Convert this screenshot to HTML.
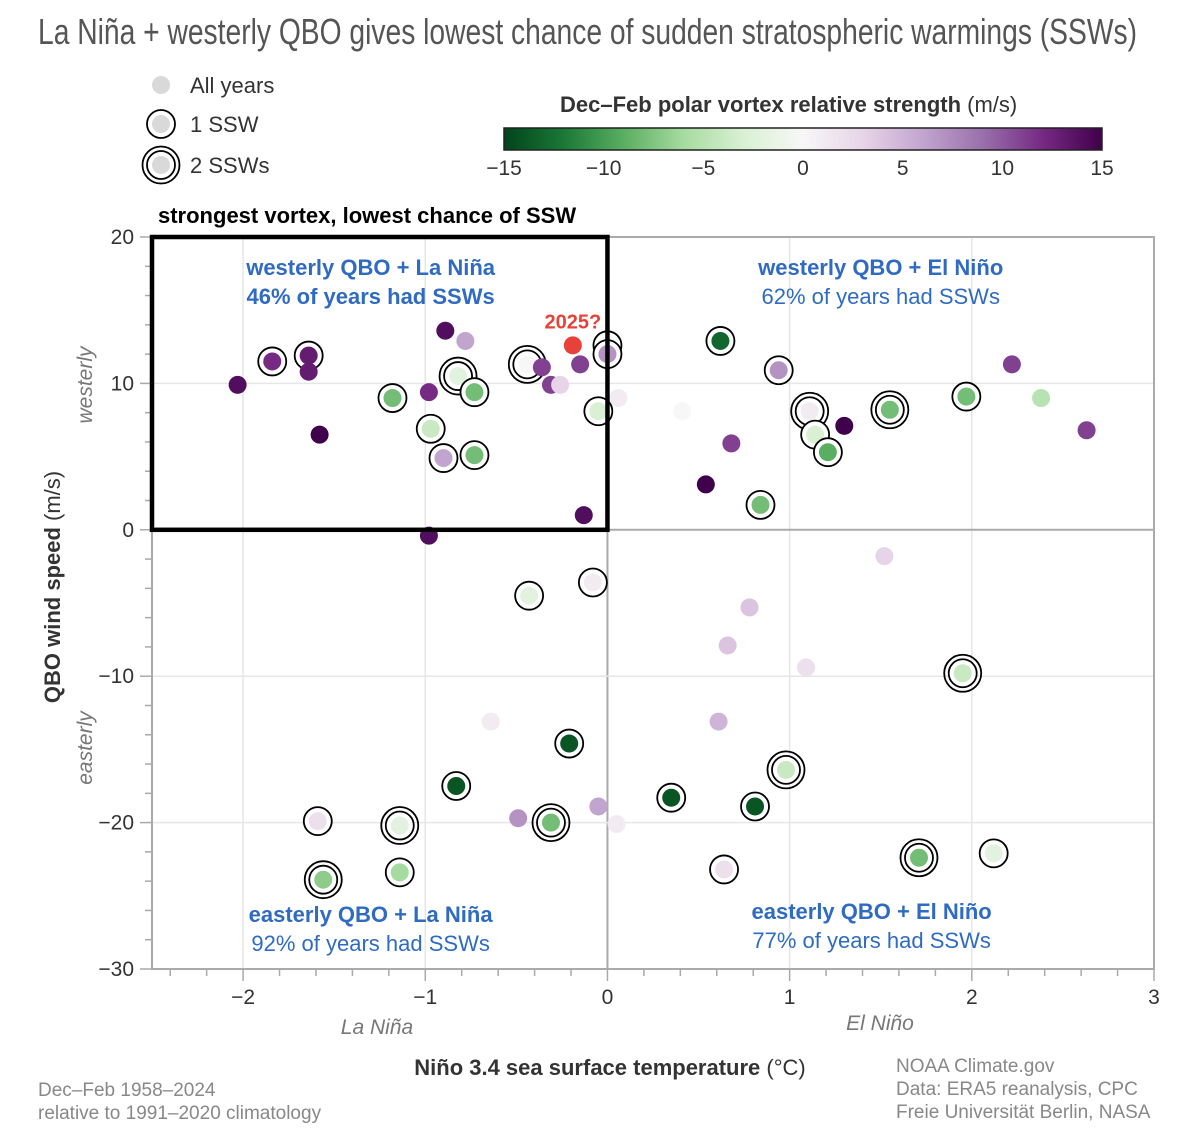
<!DOCTYPE html>
<html><head><meta charset="utf-8"><style>
html,body{margin:0;padding:0;background:#fff;}
svg{display:block;font-family:"Liberation Sans",sans-serif;}
</style></head><body>
<svg id="chart" width="1200" height="1141" viewBox="0 0 1200 1141" xmlns="http://www.w3.org/2000/svg">
<text x="38" y="44" font-size="36" fill="#555" textLength="1099" lengthAdjust="spacingAndGlyphs" font-family="Liberation Sans Narrow, Liberation Sans, sans-serif">La Niña + westerly QBO gives lowest chance of sudden stratospheric warmings (SSWs)</text>
<g>
<circle cx="161" cy="85" r="9" fill="#d9d9d9"/>
<text x="190" y="93" font-size="22" fill="#333">All years</text>
<circle cx="161" cy="124" r="9" fill="#d9d9d9"/><circle cx="161" cy="124" r="14" fill="none" stroke="#000" stroke-width="1.8"/>
<text x="190" y="132" font-size="22" fill="#333">1 SSW</text>
<circle cx="161" cy="165" r="9" fill="#d9d9d9"/><circle cx="161" cy="165" r="14" fill="none" stroke="#000" stroke-width="1.8"/><circle cx="161" cy="165" r="18.5" fill="none" stroke="#000" stroke-width="1.8"/>
<text x="190" y="173" font-size="22" fill="#333">2 SSWs</text>
</g>
<g>
<defs><linearGradient id="cg" x1="0" x2="1" y1="0" y2="0">
<stop offset="0" stop-color="#00441b"/><stop offset="0.1" stop-color="#1b7837"/><stop offset="0.2" stop-color="#5aae61"/><stop offset="0.3" stop-color="#a6dba0"/><stop offset="0.4" stop-color="#d9f0d3"/><stop offset="0.5" stop-color="#f7f7f7"/><stop offset="0.6" stop-color="#e7d4e8"/><stop offset="0.7" stop-color="#c2a5cf"/><stop offset="0.8" stop-color="#9970ab"/><stop offset="0.9" stop-color="#762a83"/><stop offset="1" stop-color="#40004b"/></linearGradient></defs>
<text x="560" y="112" font-size="22" font-weight="bold" fill="#333">Dec–Feb polar vortex relative strength <tspan font-weight="normal">(m/s)</tspan></text>
<rect x="504" y="128" width="598" height="22" fill="url(#cg)" stroke="#222" stroke-width="1.5"/>
<g id="cbticks" font-size="21" fill="#333" text-anchor="middle"></g>
</g>
<g id="plot"></g>
<text x="610" y="1075" font-size="22" font-weight="bold" fill="#333" text-anchor="middle">Niño 3.4 sea surface temperature <tspan font-weight="normal">(°C)</tspan></text>
<text x="377" y="1034" font-size="21" font-style="italic" fill="#777" text-anchor="middle">La Niña</text>
<text x="880" y="1030" font-size="21" font-style="italic" fill="#777" text-anchor="middle">El Niño</text>
<text transform="translate(60,587) rotate(-90)" font-size="22" font-weight="bold" fill="#333" text-anchor="middle">QBO wind speed <tspan font-weight="normal">(m/s)</tspan></text>
<text transform="translate(92,385) rotate(-90)" font-size="21" font-style="italic" fill="#777" text-anchor="middle">westerly</text>
<text transform="translate(92,748) rotate(-90)" font-size="21" font-style="italic" fill="#777" text-anchor="middle">easterly</text>
<text x="38" y="1096" font-size="19" fill="#888">Dec–Feb 1958–2024</text>
<text x="38" y="1119" font-size="19" fill="#888">relative to 1991–2020 climatology</text>
<text x="896" y="1072" font-size="19" fill="#888">NOAA Climate.gov</text>
<text x="896" y="1095" font-size="19" fill="#888">Data: ERA5 reanalysis, CPC</text>
<text x="896" y="1118" font-size="19" fill="#888">Freie Universität Berlin, NASA</text>
</svg>
<script>
const xVals=[-2.03,-1.84,-1.64,-1.64,-1.58,-1.18,-0.98,-0.97,-0.90,-0.89,-0.78,-0.82,-0.73,-0.73,-0.98,-0.44,-0.36,-0.31,-0.26,-0.15,0.0,0.0,-0.05,-0.13,0.06,0.41,0.62,0.68,0.54,0.94,1.11,1.14,1.21,1.30,1.55,0.84,1.97,2.22,2.38,2.63,1.52,-0.08,-0.43,0.78,0.66,1.09,1.95,-0.64,0.61,-0.21,-0.83,0.98,0.35,0.81,-0.05,-0.49,-0.31,-1.59,-1.14,0.05,-1.14,-1.56,0.64,1.71,2.12];
const yVals=[9.9,11.5,11.9,10.8,6.5,9.0,9.4,6.9,4.9,13.6,12.9,10.5,9.4,5.1,-0.4,11.3,11.1,9.9,9.9,11.3,12.6,12.0,8.1,1.0,9.0,8.1,12.9,5.9,3.1,10.9,8.1,6.5,5.3,7.1,8.2,1.7,9.1,11.3,9.0,6.8,-1.8,-3.6,-4.5,-5.3,-7.9,-9.4,-9.8,-13.1,-13.1,-14.6,-17.5,-16.4,-18.3,-18.9,-18.9,-19.7,-20.0,-19.9,-20.2,-20.1,-23.4,-23.9,-23.2,-22.4,-22.1];
const vortex=[14,12,13,13,15,-8,12,-4,6,14,6,-2,-8,-8,14,0,11,11,3,11,0,7,-3,14,1,0,-13,11,15,7,1,-3,-9,15,-8,-8,-8,11,-5,11,3,1,-2,4,4,2,-4,1,5,-14,-14,-4,-14,-14,6,7,-8,2,-2,1,-6,-7,2,-8,-2];
const sswCount=[0,1,1,0,0,1,0,1,1,0,0,2,1,1,0,2,0,0,0,0,1,1,1,0,0,0,1,0,0,1,2,1,1,0,2,1,1,0,0,0,0,1,1,0,0,0,2,0,0,1,1,2,1,1,0,0,2,1,2,0,1,2,1,2,1];
const x2025=[-0.19], y2025=[12.6];
const xTicks=[-2,-1,0,1,2,3], yTicks=[-30,-20,-10,0,10,20], cbTicks=[-15,-10,-5,0,5,10,15];
const quadLabels=[["westerly QBO + La Niña","46% of years had SSWs",-1.3,17.4,true],["westerly QBO + El Niño","62% of years had SSWs",1.5,17.4,false],["easterly QBO + La Niña","92% of years had SSWs",-1.3,-26.8,false],["easterly QBO + El Niño","77% of years had SSWs",1.45,-26.6,false]];
const NS="http://www.w3.org/2000/svg";
const X0=152,X1=1154,Y0=237,Y1=969;
const xs=v=>X0+(v+2.5)/5.5*(X1-X0);
const ys=v=>Y1-(v+30)/50*(Y1-Y0);
const cbx=v=>504+(v+15)/30*598;
const stops=["#00441b","#1b7837","#5aae61","#a6dba0","#d9f0d3","#f7f7f7","#e7d4e8","#c2a5cf","#9970ab","#762a83","#40004b"];
function hex(h){return [1,3,5].map(i=>parseInt(h.substr(i,2),16));}
function cmap(v){let t=(Math.max(-15,Math.min(15,v))+15)/30*10;let i=Math.min(9,Math.floor(t));let f=t-i;let a=hex(stops[i]),b=hex(stops[i+1]);return "rgb("+a.map((c,k)=>Math.round(c+(b[k]-c)*f)).join(",")+")";}
function mk(tag,attrs,parent){const e=document.createElementNS(NS,tag);for(const k in attrs)e.setAttribute(k,attrs[k]);parent.appendChild(e);return e;}
const plot=document.getElementById("plot");
const cbt=document.getElementById("cbticks");
cbTicks.forEach(v=>{const t=mk("text",{x:cbx(v),y:175},cbt);t.textContent=v<0?"−"+(-v):String(v);

});
// grid
xTicks.forEach(v=>{if(v>-2.5&&v<3){const l=mk("line",{x1:xs(v),x2:xs(v),y1:Y0,y2:Y1,stroke:v===0?"#aaa":"#e6e6e6","stroke-width":v===0?2:1.5},plot);

}});
yTicks.forEach(v=>{if(v>-30&&v<20){const l=mk("line",{x1:X0,x2:X1,y1:ys(v),y2:ys(v),stroke:v===0?"#aaa":"#e6e6e6","stroke-width":v===0?2:1.5},plot);

}});
const fr=mk("rect",{x:X0,y:Y0,width:X1-X0,height:Y1-Y0,fill:"none",stroke:"#aaa","stroke-width":2},plot);


// ticks
for(let v=-2.4;v<=3.001;v+=0.2){const maj=Math.abs(v-Math.round(v))<0.01;const l=mk("line",{x1:xs(v),x2:xs(v),y1:Y1,y2:Y1+(maj?12:7),stroke:"#aaa","stroke-width":1.5},plot);

}
for(let v=-30;v<=20;v+=2){const maj=v%10===0;const l=mk("line",{x1:X0-(maj?12:7),x2:X0,y1:ys(v),y2:ys(v),stroke:"#aaa","stroke-width":1.5},plot);

}
xTicks.forEach(v=>{const t=mk("text",{x:xs(v),y:Y1+35,"font-size":21,fill:"#333","text-anchor":"middle"},plot);t.textContent=v<0?"−"+(-v):String(v);

});
yTicks.forEach(v=>{const t=mk("text",{x:X0-18,y:ys(v)+7,"font-size":21,fill:"#333","text-anchor":"end"},plot);t.textContent=v<0?"−"+(-v):String(v);

});
// quadrant labels
quadLabels.forEach(q=>{const t1=mk("text",{x:xs(q[2]),y:ys(q[3]),"font-size":22,"font-weight":"bold",fill:"#2f6bc2","text-anchor":"middle"},plot);t1.textContent=q[0];


const t2=mk("text",{x:xs(q[2]),y:ys(q[3])+29,"font-size":22,"font-weight":q[4]?"bold":"normal",fill:"#2f6bc2","text-anchor":"middle"},plot);t2.textContent=q[1];

});
// points
xVals.forEach((xv,i)=>{const g=mk("g",{},plot);


const cx=xs(xv),cy=ys(yVals[i]);
if(sswCount[i]>=1)mk("circle",{cx,cy,r:14,fill:"#fff",stroke:"#000","stroke-width":1.8},g);
if(sswCount[i]>=2)mk("circle",{cx,cy,r:18.5,fill:"none",stroke:"#000","stroke-width":1.8},g);
mk("circle",{cx,cy,r:9,fill:cmap(vortex[i])},g);});
const p=mk("circle",{cx:xs(x2025[0]),cy:ys(y2025[0]),r:9,fill:"#e8413a"},plot);


const pl=mk("text",{x:xs(x2025[0]),y:ys(y2025[0])-17,"font-size":20,"font-weight":"bold",fill:"#e8413a","text-anchor":"middle"},plot);pl.textContent="2025?";


// highlight box
const bx=mk("rect",{x:X0,y:Y0,width:xs(0)-X0,height:ys(0)-Y0,fill:"none",stroke:"#000","stroke-width":4.5},plot);


const bt=mk("text",{x:158,y:223,"font-size":22,"font-weight":"bold",fill:"#000"},plot);bt.textContent="strongest vortex, lowest chance of SSW";


</script>
</body></html>
